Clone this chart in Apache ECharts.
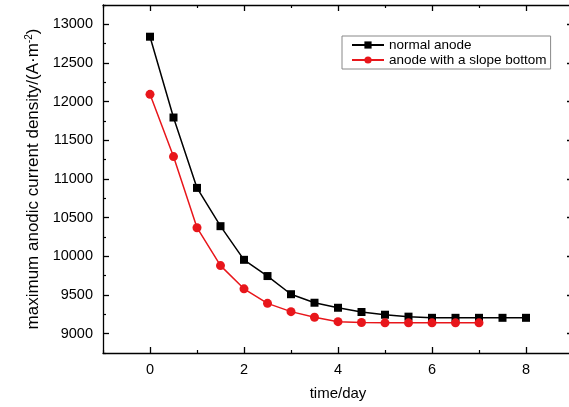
<!DOCTYPE html>
<html>
<head>
<meta charset="utf-8">
<script src="https://cdn.jsdelivr.net/npm/echarts@6/dist/echarts.min.js"></script>
<style>
html,body{margin:0;padding:0;background:#fff;}
#c{width:569px;height:407px;}
</style>
</head>
<body>
<div id="c"></div>
<script>
var daysNormal = [0, 0.5, 1, 1.5, 2, 2.5, 3, 3.5, 4, 4.5, 5, 5.5, 6, 6.5, 7, 7.5, 8];
var normalAnode = [12840, 11795, 10885, 10390, 9955, 9745, 9510, 9400, 9335, 9280, 9245, 9220, 9205, 9205, 9205, 9205, 9205];
var daysSlope = [0, 0.5, 1, 1.5, 2, 2.5, 3, 3.5, 4, 4.5, 5, 5.5, 6, 6.5, 7];
var slopeAnode = [12095, 11290, 10370, 9880, 9580, 9392, 9285, 9212, 9155, 9145, 9140, 9140, 9140, 9140, 9140];
var seriesNames = ['normal anode', 'anode with a slope bottom'];
var xTicks = [0, 2, 4, 6, 8];
var yTicks = [9000, 9500, 10000, 10500, 11000, 11500, 12000, 12500, 13000];
var xName = 'time/day';
var yName = 'maximum anodic current density/(A·m';
var ySup = '-2';

function pairs(xs, ys){ return xs.map(function(x,i){ return [x, ys[i]]; }); }

var font = 'Liberation Sans, Arial, sans-serif';
var X_MIN = -1, X_MAX = 9, Y_MIN = 8750, Y_MAX = 13250;
var gridPos = {left:103, top:5, width:470, bottom:54, containLabel:false, outerBoundsMode:'none'};
var chart = echarts.init(document.getElementById('c'), null, {renderer:'canvas'});

function majorAxis(extra){
  return Object.assign({
    type:'value',
    axisLine:{show:true, onZero:false, lineStyle:{color:'#000', width:1.3}},
    axisTick:{show:true, inside:true, length:6, lineStyle:{color:'#000', width:1.3}},
    splitLine:{show:false}
  }, extra);
}
function minorAxis(extra){
  return Object.assign({
    type:'value', gridIndex:1,
    axisLine:{show:false, onZero:false},
    axisTick:{show:true, inside:true, length:3, lineStyle:{color:'#000', width:1.2}},
    axisLabel:{show:false},
    splitLine:{show:false}
  }, extra);
}

chart.setOption({
  backgroundColor:'#fff',
  animation:false,
  grid:[gridPos, Object.assign({}, gridPos)],
  legend:{
    orient:'vertical', left:342, top:36,
    backgroundColor:'#fff',
    borderColor:'#888', borderWidth:1, borderRadius:0,
    padding:[2,4,2,9], itemGap:1,
    itemWidth:32, itemHeight:9,
    textStyle:{fontFamily:font, fontSize:13.5, color:'#000'},
    data:seriesNames
  },
  xAxis:[
    majorAxis({
      min:X_MIN, max:X_MAX, interval:1, position:'bottom',
      axisTick:{show:true, inside:true, length:6, customValues:xTicks, lineStyle:{color:'#000', width:1.3}},
      name:xName, nameLocation:'middle', nameGap:33,
      nameTextStyle:{fontFamily:font, fontSize:15, color:'#000'},
      axisLabel:{fontFamily:font, fontSize:14.5, color:'#000', margin:9, customValues:xTicks,
        formatter:function(v){ return String(v); }}
    }),
    majorAxis({
      min:X_MIN, max:X_MAX, interval:1, position:'top',
      axisTick:{show:true, inside:true, length:6, customValues:xTicks, lineStyle:{color:'#000', width:1.3}},
      axisLabel:{show:false}
    }),
    minorAxis({min:X_MIN, max:X_MAX, interval:2, position:'bottom'}),
    minorAxis({min:X_MIN, max:X_MAX, interval:2, position:'top'})
  ],
  yAxis:[
    majorAxis({
      min:Y_MIN, max:Y_MAX, interval:250, position:'left',
      axisTick:{show:true, inside:true, length:6, customValues:yTicks, lineStyle:{color:'#000', width:1.3}},
      name:'{a|' + yName + '}{s|' + ySup + '}{a|)}', nameLocation:'middle', nameGap:60,
      nameTextStyle:{fontFamily:font, fontSize:17, color:'#000',
        rich:{a:{fontFamily:font, fontSize:17, color:'#000'}, s:{fontFamily:font, fontSize:10, color:'#000', verticalAlign:'top', padding:[0,0,9,0]}}},
      axisLabel:{fontFamily:font, fontSize:14.5, color:'#000', margin:10, customValues:yTicks,
        formatter:function(v){ return String(v); }}
    }),
    majorAxis({
      min:Y_MIN, max:Y_MAX, interval:250, position:'right',
      axisTick:{show:true, inside:true, length:6, customValues:yTicks, lineStyle:{color:'#000', width:1.3}},
      axisLabel:{show:false}
    }),
    minorAxis({min:Y_MIN, max:Y_MAX, interval:500, position:'left'}),
    minorAxis({min:Y_MIN, max:Y_MAX, interval:500, position:'right'})
  ],
  series:[
    {name:seriesNames[0], type:'line', data:pairs(daysNormal, normalAnode),
     xAxisIndex:0, yAxisIndex:0,
     symbol:'rect', symbolSize:8, color:'#000',
     lineStyle:{color:'#000', width:1.5}, itemStyle:{color:'#000'}},
    {name:seriesNames[1], type:'line', data:pairs(daysSlope, slopeAnode),
     xAxisIndex:0, yAxisIndex:0,
     symbol:'circle', symbolSize:9, color:'#e8161b',
     lineStyle:{color:'#e8161b', width:1.5}, itemStyle:{color:'#e8161b'}}
  ]
});
</script>
</body>
</html>
